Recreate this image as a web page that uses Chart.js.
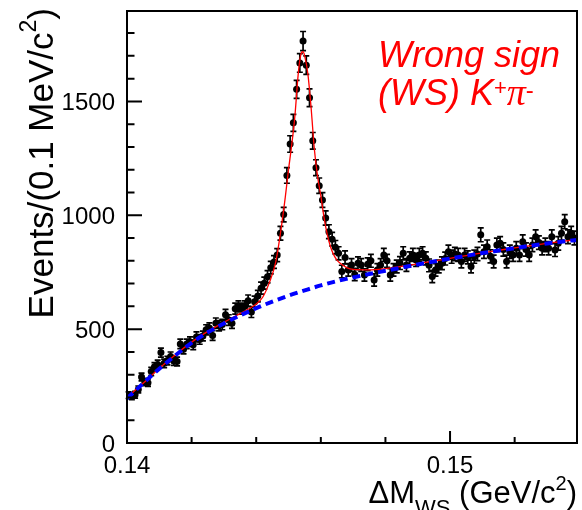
<!DOCTYPE html>
<html>
<head>
<meta charset="utf-8">
<script src="https://cdn.jsdelivr.net/npm/chart.js@4.4.1/dist/chart.umd.min.js"></script>
<style>
  html, body { margin: 0; padding: 0; background: #fff; }
  canvas { display: block; }
</style>
</head>
<body>
<canvas id="wsChart" width="582" height="510"></canvas>
<script>
// ---------- data ----------
// histogram: 0.1 MeV bins starting at 0.14 GeV
const binLow = 0.14;
const binWidth = 0.0001;
const counts = [
  210, 205, 212, 235, 290, 268, 265, 314, 335, 345,
  397, 350, 362, 380, 360, 358, 435, 412, 435, 445,
  431, 466, 455, 470, 497, 505, 472, 526, 515, 520,
  563, 540, 526, 590, 600, 590, 600, 625, 575, 620,
  645, 680, 702, 730, 770, 795, 825, 921, 1003, 1175,
  1313, 1406, 1553, 1669, 1765, 1659, 1516, 1327, 1209, 1130,
  1067, 988, 928, 895, 860, 833, 753, 815, 760, 782,
  740, 789, 782, 738, 785, 800, 716, 760, 782, 826,
  800, 738, 760, 775, 790, 833, 782, 811, 826, 804,
  826, 833, 811, 780, 731, 760, 775, 789, 810, 840,
  818, 830, 826, 797, 826, 815, 775, 818, 830, 914,
  840, 862, 820, 797, 870, 877, 850, 797, 840, 826,
  855, 826, 884, 850, 826, 870, 906, 880, 855, 870,
  855, 906, 848, 877, 921, 972, 906, 921, 900
];

// total fit (red)
const fitX = [0.1400, 0.1405, 0.1410, 0.1415, 0.1420, 0.1425, 0.1430, 0.1435, 0.1438, 0.1440,
  0.1442, 0.1444, 0.1446, 0.14475, 0.1449, 0.1450, 0.1451, 0.1452, 0.1453, 0.14538,
  0.14545, 0.1455, 0.1456, 0.1457, 0.1458, 0.1459, 0.1460, 0.1461, 0.1462, 0.1463,
  0.1464, 0.1465, 0.1466, 0.1468, 0.1470, 0.1475, 0.1480, 0.1485, 0.1490, 0.1495,
  0.1500, 0.1505, 0.1510, 0.1515, 0.1520, 0.1525, 0.1530, 0.1535, 0.15393];
const fitY = [200, 262, 328, 388, 443, 490, 530, 568, 592, 610,
  640, 702, 792, 921, 1080, 1200, 1310, 1440, 1620, 1705,
  1718, 1700, 1620, 1470, 1290, 1170, 1085, 990, 915, 862,
  826, 803, 789, 770, 762, 760, 766, 776, 787, 799,
  811, 823, 835, 846, 857, 867, 877, 886, 893];

// background component (blue dashed)
const bkgX = [0.1400, 0.1405, 0.1410, 0.1415, 0.1420, 0.1425, 0.1430, 0.1435, 0.1440, 0.1445,
  0.1450, 0.1455, 0.1460, 0.1465, 0.1470, 0.1475, 0.1480, 0.1485, 0.1490, 0.1495,
  0.1500, 0.1505, 0.1510, 0.1515, 0.1520, 0.1525, 0.1530, 0.1535, 0.15393];
const bkgY = [195, 262, 326, 385, 440, 486, 525, 560, 592, 621,
  647, 670, 692, 711, 727, 742, 756, 770, 784, 797,
  810, 822, 834, 845, 856, 866, 876, 885, 892];

const xMin = 0.14, xMax = 0.15393;
const yMin = 0, yMax = 1897;
const xMajorTicks = [0.14, 0.15];
const xTickLabels = ['0.14', '0.15'];
const yMajorTicks = [0, 500, 1000, 1500];
const yTickLabels = ['0', '500', '1000', '1500'];

const SANS = '"Liberation Sans", Arial, Helvetica, sans-serif';
const SERIF = '"Liberation Serif", "Times New Roman", serif';

const points = counts.map((n, i) => ({ x: binLow + (i + 0.5) * binWidth, y: n }));
const fitPts = fitX.map((x, i) => ({ x, y: fitY[i] }));
const bkgPts = bkgX.map((x, i) => ({ x, y: bkgY[i] }));

// draw a run of text pieces (size / font / vertical shift) one after another
function drawRich(ctx, pieces, x, y, align) {
  const widths = pieces.map(p => { ctx.font = p.font; return ctx.measureText(p.t).width; });
  const total = widths.reduce((a, b) => a + b, 0);
  let cx = align === 'right' ? x - total : x;
  ctx.textAlign = 'left';
  ctx.textBaseline = 'alphabetic';
  pieces.forEach((p, i) => {
    ctx.font = p.font;
    ctx.fillText(p.t, cx, y + (p.dy || 0));
    cx += widths[i];
  });
}

const framePlugin = {
  id: 'frame',
  beforeDatasetsDraw(chart) {
    // error bars, sqrt(N) Poisson errors of the counts
    const { ctx, scales: { x, y } } = chart;
    ctx.save();
    ctx.strokeStyle = '#000';
    ctx.lineWidth = 1.7;
    points.forEach(p => {
      const e = Math.sqrt(p.y);
      const px = x.getPixelForValue(p.x);
      const t = y.getPixelForValue(p.y + e);
      const b = y.getPixelForValue(p.y - e);
      ctx.beginPath();
      ctx.moveTo(px, t); ctx.lineTo(px, b);
      ctx.moveTo(px - 3, t); ctx.lineTo(px + 3, t);
      ctx.moveTo(px - 3, b); ctx.lineTo(px + 3, b);
      ctx.stroke();
    });
    ctx.restore();
  },
  afterDraw(chart) {
    const { ctx, chartArea: a, scales: { x, y } } = chart;
    ctx.save();
    ctx.strokeStyle = '#000';
    ctx.lineWidth = 2;
    ctx.strokeRect(a.left, a.top, a.right - a.left, a.bottom - a.top);

    // inward ticks
    ctx.beginPath();
    for (let v = 0; v <= yMax; v += 100) {
      const py = y.getPixelForValue(v);
      const len = v % 500 === 0 ? 15 : 7.5;
      ctx.moveTo(a.left, py); ctx.lineTo(a.left + len, py);
    }
    for (let k = 0; xMin + k * 0.002 <= xMax; k++) {
      const px = x.getPixelForValue(xMin + k * 0.002);
      const len = k % 5 === 0 ? 12 : 6;
      ctx.moveTo(px, a.bottom); ctx.lineTo(px, a.bottom - len);
    }
    ctx.stroke();

    // tick labels
    ctx.fillStyle = '#000';
    ctx.font = '24px ' + SANS;
    ctx.textAlign = 'right';
    ctx.textBaseline = 'middle';
    yMajorTicks.forEach((v, i) => ctx.fillText(yTickLabels[i], a.left - 12, y.getPixelForValue(v) + 2));
    ctx.textAlign = 'center';
    ctx.textBaseline = 'alphabetic';
    xMajorTicks.forEach((v, i) => ctx.fillText(xTickLabels[i], x.getPixelForValue(v), 473));

    // x title
    drawRich(ctx, [
      { t: '\u0394M', font: '31px ' + SANS },
      { t: 'WS', font: '22px ' + SANS, dy: 12 },
      { t: ' (GeV/c', font: '31px ' + SANS },
      { t: '2', font: '20px ' + SANS, dy: -13 },
      { t: ')', font: '31px ' + SANS }
    ], a.right, 503, 'right');

    // y title, rotated
    ctx.save();
    ctx.translate(53, 8);
    ctx.rotate(-Math.PI / 2);
    drawRich(ctx, [
      { t: 'Events/(0.1 MeV/c', font: '35px ' + SANS },
      { t: '2', font: '23px ' + SANS, dy: -17 },
      { t: ')', font: '35px ' + SANS }
    ], 0, 0, 'right');
    ctx.restore();

    // annotation
    ctx.fillStyle = '#ff0000';
    drawRich(ctx, [{ t: 'Wrong sign', font: 'italic 36px ' + SANS }], 378, 67, 'left');
    drawRich(ctx, [
      { t: '(WS) K', font: 'italic 36px ' + SANS },
      { t: '+', font: '22px ' + SANS, dy: -10 },
      { t: '\u03c0', font: 'italic 38px ' + SERIF },
      { t: '-', font: '24px ' + SANS, dy: -7 }
    ], 378, 105, 'left');
    ctx.restore();
  }
};

new Chart(document.getElementById('wsChart').getContext('2d'), {
  type: 'scatter',
  data: {
    datasets: [
      {
        label: 'Background',
        type: 'line',
        data: bkgPts,
        borderColor: '#0000ff',
        borderWidth: 4,
        borderDash: [8, 5],
        pointRadius: 0,
        cubicInterpolationMode: 'monotone',
        fill: false,
        order: 0
      },
      {
        label: 'Fit',
        type: 'line',
        data: fitPts,
        borderColor: '#ff0000',
        borderWidth: 1.3,
        pointRadius: 0,
        cubicInterpolationMode: 'monotone',
        fill: false,
        order: 1
      },
      {
        label: 'Data',
        data: points,
        backgroundColor: '#000',
        borderColor: '#000',
        pointRadius: 3.5,
        pointBorderWidth: 0,
        showLine: false,
        order: 2
      }
    ]
  },
  options: {
    responsive: false,
    animation: false,
    events: [],
    layout: { padding: { left: 127, right: 5, top: 11, bottom: 67 } },
    plugins: { legend: { display: false }, tooltip: { enabled: false } },
    scales: {
      x: { type: 'linear', min: xMin, max: xMax, display: false },
      y: { type: 'linear', min: yMin, max: yMax, display: false }
    }
  },
  plugins: [framePlugin]
});
</script>
</body>
</html>
